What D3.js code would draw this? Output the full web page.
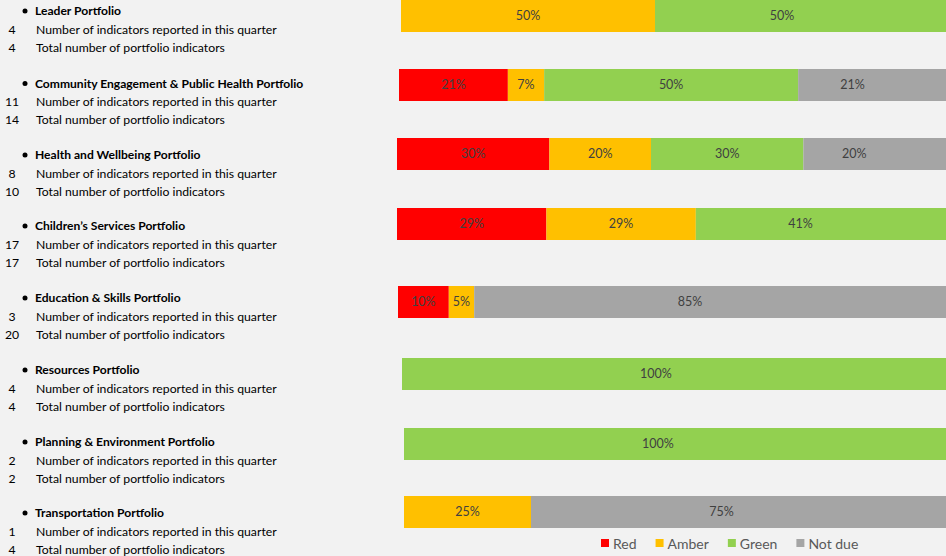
<!DOCTYPE html>
<html>
<head>
<meta charset="utf-8">
<script src="https://cdn.jsdelivr.net/npm/d3@7/dist/d3.min.js"></script>
<style>
  body { margin: 0; background: #f2f2f2; }
  svg { display: block; }
</style>
</head>
<body>
<div id="chart"></div>
<script>
// Portfolio data (counts of indicators by RAG status, per portfolio)
var portfolios = [
  "Leader Portfolio",
  "Community Engagement & Public Health Portfolio",
  "Health and Wellbeing Portfolio",
  "Children\u2019s Services Portfolio",
  "Education & Skills Portfolio",
  "Resources Portfolio",
  "Planning & Environment Portfolio",
  "Transportation Portfolio"
];
var reported = [4, 11, 8, 17, 3, 4, 2, 1];
var total    = [4, 14, 10, 17, 20, 4, 2, 4];

var redCount    = [0, 3, 3, 5, 2, 0, 0, 0];
var amberCount  = [2, 1, 2, 5, 1, 0, 0, 1];
var greenCount  = [2, 7, 3, 7, 0, 4, 2, 0];
var notDueCount = [0, 3, 2, 0, 17, 0, 0, 3];

var keys   = ["Red", "Amber", "Green", "Not due"];
var colors = ["#ff0000", "#ffc000", "#92d050", "#a5a5a5"];

var line1 = "Number of indicators reported in this quarter";
var line2 = "Total number of portfolio indicators";

// Layout (each bar was its own little chart, so they don't line up exactly)
var W = 946, H = 556;
var FONT = "Lato, 'Open Sans', sans-serif";
var barStart = [401, 399, 397, 397, 398, 402, 404, 404];
var barTop   = [0, 69, 138, 208, 286, 358, 428, 496];
var textBase = [15, 87.5, 159, 230, 302, 374, 446, 517];
var barWidth = 508, barHeight = 32;

var svg = d3.select("#chart").append("svg")
  .attr("width", W)
  .attr("height", H)
  .style("background", "#f2f2f2");

// pick font sizes so the text widths match the original
function fitSize(text, weight, target) {
  var t = svg.append("text")
    .attr("font-family", FONT)
    .attr("font-weight", weight)
    .attr("font-size", 20)
    .text(text);
  var w = t.node().getComputedTextLength();
  t.remove();
  return 20 * target / w;
}
var bodySize   = fitSize(line1, "normal", 241);
var titleSize  = fitSize("Leader Portfolio", "bold", 86);
var labelSize  = 12.5;
var legendSize = 14;

// table for d3.stack
var table = portfolios.map(function(p, i) {
  return { name: p, "Red": redCount[i], "Amber": amberCount[i],
           "Green": greenCount[i], "Not due": notDueCount[i] };
});

var stacked = d3.stack()
  .keys(keys)
  .offset(d3.stackOffsetExpand)(table);

var color = d3.scaleOrdinal().domain(keys).range(colors);

// Left-hand text blocks
var blocks = svg.selectAll(".block")
  .data(table)
  .enter().append("g")
  .attr("class", "block")
  .attr("font-family", FONT);

blocks.append("circle")
  .attr("cx", 25)
  .attr("cy", function(d, i) { return textBase[i] - 4; })
  .attr("r", 2.5)
  .attr("fill", "#000");

blocks.append("text")
  .attr("x", 35)
  .attr("y", function(d, i) { return textBase[i]; })
  .attr("font-weight", "bold")
  .attr("font-size", titleSize)
  .attr("fill", "#000")
  .text(function(d) { return d.name; });

blocks.append("text")
  .attr("x", 12)
  .attr("y", function(d, i) { return textBase[i] + 18.5; })
  .attr("text-anchor", "middle")
  .attr("font-size", bodySize)
  .text(function(d, i) { return reported[i]; });

blocks.append("text")
  .attr("x", 36)
  .attr("y", function(d, i) { return textBase[i] + 18.5; })
  .attr("font-size", bodySize)
  .text(line1);

blocks.append("text")
  .attr("x", 12)
  .attr("y", function(d, i) { return textBase[i] + 36.5; })
  .attr("text-anchor", "middle")
  .attr("font-size", bodySize)
  .text(function(d, i) { return total[i]; });

blocks.append("text")
  .attr("x", 36)
  .attr("y", function(d, i) { return textBase[i] + 36.5; })
  .attr("font-size", bodySize)
  .text(line2);

// Bars
table.forEach(function(row, i) {
  var x = d3.scaleLinear().domain([0, 1]).range([barStart[i], barStart[i] + barWidth]);
  var segs = stacked.map(function(s) {
    return { key: s.key, x0: s[i][0], x1: s[i][1] };
  }).filter(function(s) { return s.x1 - s.x0 > 0; });

  var g = svg.append("g").attr("class", "bar");

  g.selectAll("rect")
    .data(segs)
    .enter().append("rect")
    .attr("x", function(d) { return x(d.x0); })
    .attr("y", barTop[i])
    .attr("width", function(d, j) {
      // last segment runs off the right edge in the original
      if (j == segs.length - 1) return W - x(d.x0);
      return x(d.x1) - x(d.x0);
    })
    .attr("height", barHeight)
    .attr("fill", function(d) { return color(d.key); });

  g.selectAll("text")
    .data(segs)
    .enter().append("text")
    .attr("x", function(d) { return (x(d.x0) + x(d.x1)) / 2; })
    .attr("y", barTop[i] + barHeight / 2)
    .attr("dy", "0.35em")
    .attr("text-anchor", "middle")
    .attr("font-family", FONT)
    .attr("font-size", labelSize)
    .attr("fill", "#404040")
    .text(function(d) { return Math.round((d.x1 - d.x0) * 100) + "%"; });
});

// Legend
var legend = svg.append("g")
  .attr("class", "legend")
  .attr("font-family", FONT)
  .attr("font-size", legendSize);

var lx = 601;
keys.forEach(function(k) {
  legend.append("rect")
    .attr("x", lx)
    .attr("y", 539)
    .attr("width", 8)
    .attr("height", 8)
    .attr("fill", color(k));
  var t = legend.append("text")
    .attr("x", lx + 12)
    .attr("y", 548.5)
    .attr("fill", "#595959")
    .text(k);
  lx += 12 + t.node().getComputedTextLength() + 19;
});
</script>
</body>
</html>
